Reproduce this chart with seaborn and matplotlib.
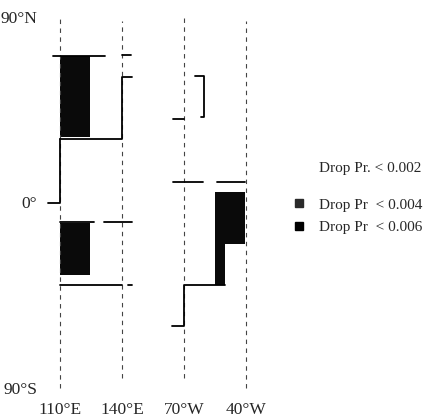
import pandas as pd
import matplotlib
matplotlib.use("Agg")
import matplotlib.pyplot as plt
from matplotlib.lines import Line2D
import seaborn as sns

# %%
# meridians (categorical positions along the x axis)
meridians = ["110°E", "140°E", "70°W", "40°W"]
meridian_top = [90, 88, 90, 88]
meridian_bottom = [-90, -85, -85, -90]

# filled regions: left / right (meridian units), south / north edge (latitude)
fill_left = [0.0, 0.0, 2.5, 2.5]
fill_right = [0.49, 0.49, 2.98, 2.66]
fill_south = [32, -35, -20, -40]
fill_north = [71, -10, 5, -20]

# outline segments (id, x, latitude)
outline_seg = [1, 1, 2, 2, 2, 2, 3, 3, 4, 4, 4, 5, 5, 6, 6, 7, 7, 8, 8,
               9, 9, 10, 10, 10, 10, 11, 11, 12, 12, 13, 13, 13, 13]
outline_x = [-0.12, 0.73, 0.0, 1.0, 1.0, 1.16, 1.0, 1.14, 0.0, 0.0, -0.19,
             0.0, 0.55, 0.71, 1.16, 0.0, 1.0, 1.1, 1.16,
             1.82, 2.0, 2.18, 2.32, 2.32, 2.27, 1.82, 2.31, 2.54, 2.98,
             2.66, 2.0, 2.0, 1.81]
outline_lat = [71, 71, 31, 31, 61, 61, 71.5, 71.5, 31, 0, 0,
               -9.5, -9.5, -9.5, -9.5, -40, -40, -40, -40,
               40.5, 40.5, 61.5, 61.5, 41.5, 41.5, 10, 10, 10, 10,
               -40, -40, -60, -60]

lat_ticks = [90, 0, -90]
lat_labels = ["90°N", "0°", "90°S"]
legend_labels = ["Drop Pr. < 0.002", "Drop Pr  < 0.004", "Drop Pr  < 0.006"]
legend_colors = ["white", "#2a2a2a", "black"]

# %%
sns.set_style("white")
plt.rcParams['font.family'] = ['Liberation Serif', 'DejaVu Serif']

fig = plt.figure(figsize=(4.4, 4.18), dpi=100)
ax = fig.add_axes([40 / 440, 1 - 395 / 418, 230 / 440, 385 / 418])

# dashed meridian lines
ax.vlines(range(len(meridians)), meridian_bottom, meridian_top,
          colors="#444444", linestyles=(0, (4, 4)), linewidth=0.8)

# filled regions
for l, r, s, n in zip(fill_left, fill_right, fill_south, fill_north):
    ax.bar(l, n - s, width=r - l, bottom=s, align='edge', color="#0a0a0a", linewidth=0)

# outlines
outlines = pd.DataFrame({'seg': outline_seg, 'x': outline_x, 'lat': outline_lat})
sns.lineplot(data=outlines, x='x', y='lat', units='seg', estimator=None, sort=False,
             color='black', linewidth=1.3, ax=ax)

ax.set_xlim(-20 / 62, 210 / 62)
ax.set_ylim(-93.4, 93.4)
ax.set_xticks(range(len(meridians)))
ax.set_xticklabels(meridians, fontsize=12.5)
ax.set_yticks(lat_ticks)
ax.set_yticklabels(lat_labels, fontsize=12.5)
ax.tick_params(axis='both', length=0)
ax.tick_params(axis='x', pad=5)
ax.tick_params(axis='y', pad=2)
ax.set(xlabel='', ylabel='')
sns.despine(ax=ax, left=True, bottom=True)

# legend (first row stands apart from the other two)
def handle(c):
    return Line2D([], [], marker='s', linestyle='', markersize=6,
                  markerfacecolor=c, markeredgecolor=c)

leg1 = fig.legend([handle(legend_colors[0])], legend_labels[:1],
                  loc='center left', bbox_to_anchor=(291 / 440, 1 - 168 / 418),
                  frameon=False, fontsize=11, handlelength=1.0, handletextpad=0.8,
                  borderpad=0, borderaxespad=0)
leg2 = fig.legend([handle(c) for c in legend_colors[1:]], legend_labels[1:],
                  loc='center left', bbox_to_anchor=(291 / 440, 1 - 216 / 418),
                  frameon=False, fontsize=11, handlelength=1.0, handletextpad=0.8,
                  labelspacing=0.55, borderpad=0, borderaxespad=0)

plt.savefig("out.png", dpi=100)
